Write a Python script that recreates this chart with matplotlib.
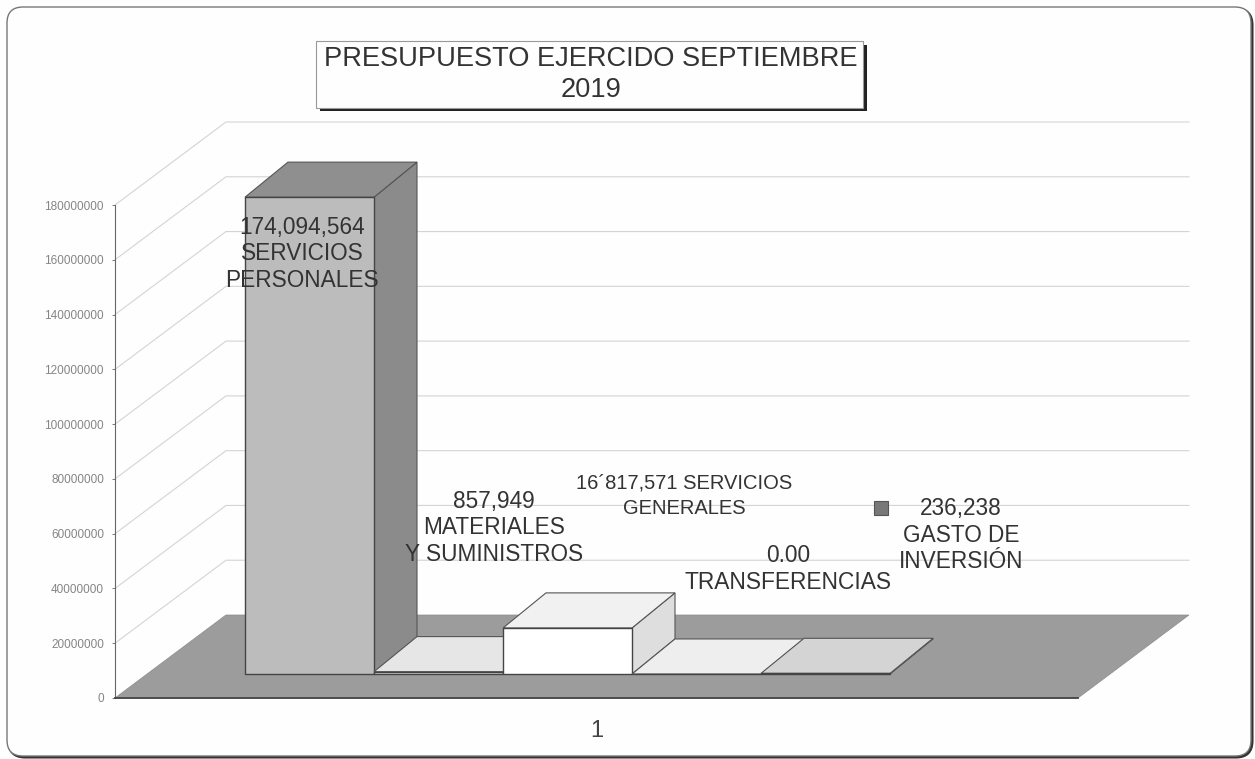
import numpy as np
import matplotlib
matplotlib.use('Agg')
import matplotlib.pyplot as plt
from matplotlib.patches import Polygon, Rectangle, FancyBboxPatch

plt.rcParams['font.family'] = ['Liberation Sans', 'DejaVu Sans']

W, H = 1255, 759

# datos
categories = ['SERVICIOS PERSONALES', 'MATERIALES Y SUMINISTROS', 'SERVICIOS GENERALES', 'TRANSFERENCIAS', 'GASTO DE INVERSION']
values = [174094564, 857949, 16817571, 0, 236238]
y_ticks = [0, 20000000, 40000000, 60000000, 80000000, 100000000, 120000000, 140000000, 160000000, 180000000]
x_tick_label = ['1']
title = 'PRESUPUESTO EJERCIDO SEPTIEMBRE\n2019'
label_texts = ['174,094,564\nSERVICIOS\nPERSONALES', '857,949\nMATERIALES\nY SUMINISTROS',
               '16´817,571 SERVICIOS\nGENERALES', '0.00\nTRANSFERENCIAS', '236,238\nGASTO DE\nINVERSIÓN']

# colores de cada barra (frente, lado, tapa)
front_colors = ['#bcbcbc', '#e4e4e4', '#ffffff', '#ececec', '#d2d2d2']
side_colors = ['#8b8b8b', '#e4e4e4', '#dedede', '#ececec', '#d2d2d2']
top_colors = ['#8f8f8f', '#e6e6e6', '#f1f1f1', '#eeeeee', '#d4d4d4']

fig = plt.figure(figsize=(W / 100, H / 100), dpi=100, facecolor='#fefefe')

# marco redondeado
bg = fig.add_axes([0, 0, 1, 1], zorder=0)
bg.set_xlim(0, W)
bg.set_ylim(H, 0)
bg.axis('off')
bg.add_patch(FancyBboxPatch((9, 9), 1243, 748, boxstyle='round,pad=0,rounding_size=1', mutation_scale=16,
                            fc='none', ec='#333333', lw=2.2))
bg.add_patch(FancyBboxPatch((7, 7), 1244, 749, boxstyle='round,pad=0,rounding_size=1', mutation_scale=16,
                            fc='#fefefe', ec='#777777', lw=1.0))

# ejes del grafico
ax = fig.add_axes([115 / W, 1 - 698 / H, 963 / W, 493 / H], zorder=1)
ax.patch.set_alpha(0)
xmin, xmax = -1.008, 6.457
ax.set_xlim(xmin, xmax)
ax.set_ylim(0, 180000000)

# profundidad del suelo y de las barras
wall_dx = 0.86
wall_dy = 30300000
bar_dx = 0.333
bar_dy = 12800000
base = 8760000

for t in y_ticks[1:]:
    ax.plot([xmin, xmin + wall_dx, xmax + wall_dx], [t, t + wall_dy, t + wall_dy], color='#d4d4d4', lw=0.8, clip_on=False, zorder=1)

floor = [(xmin, 0), (xmax, 0), (xmax + wall_dx, wall_dy), (xmin + wall_dx, wall_dy)]
ax.add_patch(Polygon(floor, fc='#9c9c9c', ec='#8a8a8a', lw=0.5, clip_on=False, zorder=2))

for i, v in enumerate(values):
    x0, x1 = i, i + 1
    y0, y1 = base, base + v
    z = 3 + i * 0.1
    ax.add_patch(Polygon([(x1, y0), (x1 + bar_dx, y0 + bar_dy), (x1 + bar_dx, y1 + bar_dy), (x1, y1)],
                         fc=side_colors[i], ec='#555555', lw=0.8, clip_on=False, zorder=z))
    ax.add_patch(Polygon([(x0, y1), (x1, y1), (x1 + bar_dx, y1 + bar_dy), (x0 + bar_dx, y1 + bar_dy)],
                         fc=top_colors[i], ec='#555555', lw=0.8, clip_on=False, zorder=z))
    ax.add_patch(Rectangle((x0, y0), 1, v, fc=front_colors[i], ec='#444444', lw=1.0, clip_on=False, zorder=z))

for s in ['top', 'right']:
    ax.spines[s].set_visible(False)
ax.spines['left'].set_color('#666666')
ax.spines['left'].set_zorder(6)
ax.spines['bottom'].set_color('#444444')
ax.spines['bottom'].set_linewidth(1.3)
ax.spines['bottom'].set_zorder(6)

ax.set_yticks(y_ticks)
ax.set_yticklabels([str(t) for t in y_ticks], fontsize=8.5, color='#858585')
ax.tick_params(axis='y', length=2, width=0.6, color='#666666', pad=6)
ax.set_xticks([(xmin + xmax) / 2])
ax.set_xticklabels(x_tick_label, fontsize=17, color='#444444')
ax.tick_params(axis='x', length=0, pad=16)

# capa de textos en pixeles
ov = fig.add_axes([0, 0, 1, 1], zorder=2)
ov.set_xlim(0, W)
ov.set_ylim(H, 0)
ov.axis('off')
ov.patch.set_alpha(0)

ov.add_patch(Rectangle((320, 45), 547, 66, fc='#222222', ec='none'))
ov.add_patch(Rectangle((316, 41), 547, 67, fc='#fefefe', ec='#999999', lw=0.8))
ov.text(591, 74.5, title, ha='center', va='center', fontsize=19.6, color='#333333', linespacing=1.27)

label_xy = [(302, 254), (494, 528), (684, 495.5), (788, 569), (961, 535)]
label_fs = [16.3, 16.3, 14.5, 16.4, 16.3]
label_ls = [1.18, 1.18, 1.45, 1.24, 1.18]
for txt, (lx, ly), fs, ls in zip(label_texts, label_xy, label_fs, label_ls):
    ov.text(lx, ly, txt, ha='center', va='center', fontsize=fs, color='#333333', linespacing=ls)

ov.add_patch(Rectangle((874, 501), 14, 14, fc='#787878', ec='#555555', lw=0.8))

fig.savefig('out.png', dpi=100, facecolor=fig.get_facecolor())
